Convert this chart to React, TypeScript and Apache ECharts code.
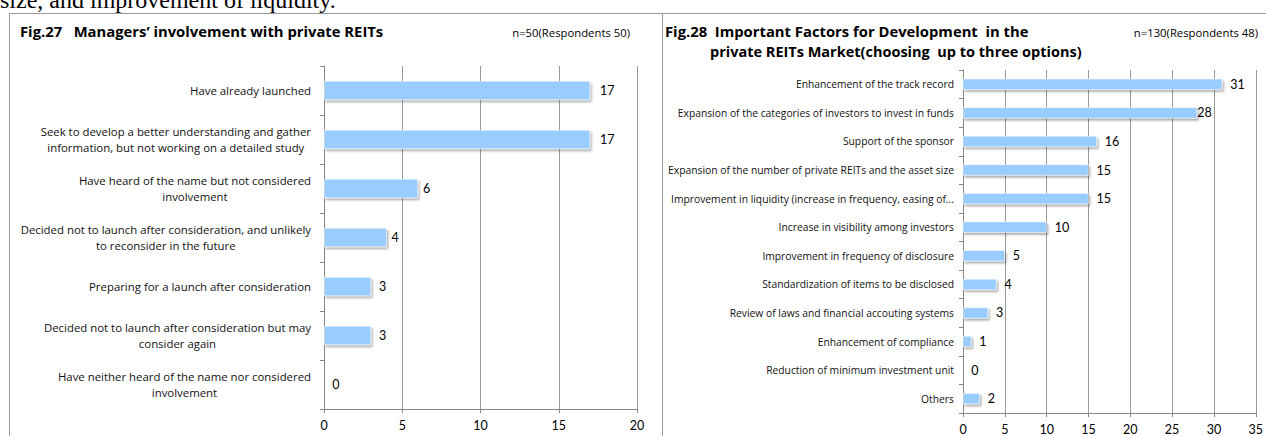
import React, { useEffect, useRef } from "react";
import * as echarts from "echarts";

// ---- data ----
const leftCategories = [
  "Have already launched",
  "Seek to develop a better understanding and gather\ninformation, but not working on a detailed study",
  "Have heard of the name but not considered\ninvolvement",
  "Decided not to launch after consideration, and unlikely\nto reconsider in the future",
  "Preparing for a launch after consideration",
  "Decided not to launch after consideration but may\nconsider again",
  "Have neither heard of the name nor considered\ninvolvement",
];
const leftValues = [17, 17, 6, 4, 3, 3, 0];
const leftAxisMax = 20;

const rightCategories = [
  "Enhancement of the track record",
  "Expansion of the categories of investors to invest in funds",
  "Support of the sponsor",
  "Expansion of the number of private REITs and the asset size",
  "Improvement in liquidity (increase in frequency, easing of...",
  "Increase in visibility among investors",
  "Improvement in frequency of disclosure",
  "Standardization of items to be disclosed",
  "Review of laws and financial accouting systems",
  "Enhancement of compliance",
  "Reduction of minimum investment unit",
  "Others",
];
const rightValues = [31, 28, 16, 15, 15, 10, 5, 4, 3, 1, 0, 2];
const rightAxisMax = 35;
const axisStep = 5;

// ---- styles (label gaps per bar) ----
const leftLabelGap = [10, 10, 5, 5, 8, 8, 8];
const rightLabelGap = [8, 0, 8, 8, 8, 8, 8, 8, 8, 8, 8, 8];

const TEXT_FONT = "'Open Sans', Lato, sans-serif";
const NUM_FONT = "Lato, 'Open Sans', sans-serif";
const BAR_COLOR = "#99CCFF";
const GRID_COLOR = "#999999";

function barSeries(values: number[], gaps: number[], idx: number, width: number) {
  return {
    type: "bar",
    xAxisIndex: idx,
    yAxisIndex: idx,
    barWidth: width,
    itemStyle: {
      color: BAR_COLOR,
      borderColor: "#ffffff",
      borderWidth: 0.5,
      shadowColor: "rgba(0,0,0,0.35)",
      shadowBlur: 2,
      shadowOffsetX: 1.5,
      shadowOffsetY: 2,
    },
    label: {
      show: true,
      position: "right",
      fontSize: 12.5,
      fontFamily: NUM_FONT,
      color: "#000",
    },
    data: values.map((v, i) => ({ value: v, label: { distance: gaps[i] } })),
  };
}

function valueAxis(idx: number, max: number) {
  return {
    gridIndex: idx,
    type: "value",
    min: 0,
    max,
    interval: axisStep,
    axisLine: { show: true, lineStyle: { color: "#888", width: 1 } },
    axisTick: { show: true, length: 4, lineStyle: { color: "#888" } },
    axisLabel: { fontSize: 12.5, fontFamily: NUM_FONT, color: "#000", margin: 10 },
    splitLine: { show: true, lineStyle: { color: GRID_COLOR, width: 1 } },
  };
}

function catAxis(idx: number, data: string[], fontSize: number, margin: number, lineHeight: number) {
  const tokenStyle = {
    align: "center",
    fontSize,
    fontFamily: TEXT_FONT,
    color: "#111",
    lineHeight,
  };
  return {
    gridIndex: idx,
    type: "category",
    inverse: true,
    data,
    axisLine: { show: true, lineStyle: { color: "#888", width: 1 } },
    axisTick: { show: true, length: 4, lineStyle: { color: "#888" } },
    axisLabel: {
      fontSize,
      fontFamily: TEXT_FONT,
      color: "#111",
      margin,
      lineHeight,
      align: "right",
      formatter: (value: string) =>
        value.indexOf("\n") >= 0
          ? value
              .split("\n")
              .map((l) => `{c|${l}}`)
              .join("\n")
          : value,
      rich: { c: tokenStyle },
    },
    splitLine: { show: false },
  };
}

export default function App() {
  const ref = useRef<HTMLDivElement>(null);
  useEffect(() => {
    if (!ref.current) return;
    const chart = echarts.init(ref.current, null, { renderer: "svg" });
    chart.setOption({
      animation: false,
      backgroundColor: "#ffffff",
      grid: [
        { left: 324, top: 66, width: 313, height: 343 },
        { left: 963, top: 70, width: 296, height: 343 },
      ],
      xAxis: [valueAxis(0, leftAxisMax), valueAxis(1, rightAxisMax)],
      yAxis: [
        catAxis(0, leftCategories, 11.4, 13, 16),
        catAxis(1, rightCategories, 10.3, 9, 12),
      ],
      series: [
        barSeries(leftValues, leftLabelGap, 0, 19),
        barSeries(rightValues, rightLabelGap, 1, 11),
      ],
      graphic: [
        {
          type: "text",
          x: 0,
          y: 0,
          style: {
            text: "size, and improvement of liquidity.",
            font: "24px 'Liberation Serif', 'DejaVu Serif', serif",
            fill: "#000",
            verticalAlign: "middle",
          },
        },
        {
          type: "rect",
          shape: { x: 9.5, y: 13.5, width: 653, height: 600 },
          style: { fill: "none", stroke: "#999", lineWidth: 1 },
        },
        {
          type: "rect",
          shape: { x: 662.5, y: 13.5, width: 700, height: 600 },
          style: { fill: "none", stroke: "#999", lineWidth: 1 },
        },
        {
          type: "text",
          x: 20,
          y: 31,
          style: {
            text: "Fig.27   Managers’ involvement with private REITs",
            font: `bold 14.8px ${TEXT_FONT}`,
            fill: "#000",
            verticalAlign: "middle",
          },
        },
        {
          type: "text",
          x: 630,
          y: 32,
          style: {
            text: "n=50(Respondents 50)",
            font: `11.3px ${TEXT_FONT}`,
            fill: "#000",
            align: "right",
            verticalAlign: "middle",
          },
        },
        {
          type: "text",
          x: 665,
          y: 31,
          style: {
            text: "Fig.28  Important Factors for Development  in the",
            font: `bold 14.8px ${TEXT_FONT}`,
            fill: "#000",
            verticalAlign: "middle",
          },
        },
        {
          type: "text",
          x: 710,
          y: 51,
          style: {
            text: "private REITs Market(choosing  up to three options)",
            font: `bold 14.5px ${TEXT_FONT}`,
            fill: "#000",
            verticalAlign: "middle",
          },
        },
        {
          type: "text",
          x: 1258,
          y: 32,
          style: {
            text: "n=130(Respondents 48)",
            font: `11.3px ${TEXT_FONT}`,
            fill: "#000",
            align: "right",
            verticalAlign: "middle",
          },
        },
      ],
    });
    return () => chart.dispose();
  }, []);
  return (
    <div
      ref={ref}
      style={{ position: "fixed", left: 0, top: 0, width: 1266, height: 436, background: "#fff" }}
    />
  );
}
